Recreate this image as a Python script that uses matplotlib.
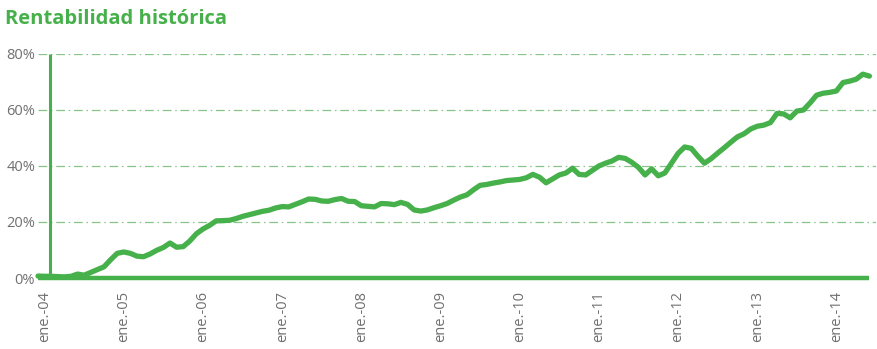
import matplotlib
matplotlib.use("Agg")
import matplotlib.pyplot as plt
import numpy as np

# Monthly cumulative return (%), dic.-03 .. jun.-14
returns = [
    0.7, 0.6, 0.6, 0.5, 0.4, 0.6, 1.4, 1.0, 2.0, 3.0, 4.0, 6.5,
    8.8, 9.3, 8.8, 7.8, 7.6, 8.6, 9.9, 10.9, 12.5, 11.0, 11.2, 13.2,
    15.8, 17.5, 18.8, 20.4, 20.5, 20.6, 21.2, 22.0, 22.6, 23.2, 23.8, 24.2,
    25.0, 25.5, 25.4, 26.3, 27.2, 28.2, 28.1, 27.5, 27.4, 28.0, 28.4, 27.4,
    27.3, 25.8, 25.6, 25.4, 26.6, 26.5, 26.2, 27.0, 26.3, 24.3, 23.9, 24.3,
    25.1, 25.8, 26.6, 27.8, 28.9, 29.7, 31.5, 33.1, 33.4, 33.9, 34.3, 34.8,
    35.0, 35.2, 35.8, 37.0, 36.0, 34.0, 35.4, 36.8, 37.5, 39.2, 37.0, 36.8,
    38.4, 40.0, 41.0, 41.8, 43.1, 42.7, 41.3, 39.5, 36.8, 39.0, 36.5, 37.5,
    41.0, 44.5, 46.8, 46.3, 43.5, 41.0, 42.6, 44.6, 46.5, 48.5, 50.4, 51.5,
    53.2, 54.2, 54.6, 55.5, 58.8, 58.6, 57.2, 59.6, 60.0, 62.5, 65.3, 66.0,
    66.3, 66.8, 69.8, 70.3, 71.0, 72.8, 72.1,
]
tick_labels = ["ene.-04", "ene.-05", "ene.-06", "ene.-07", "ene.-08", "ene.-09",
               "ene.-10", "ene.-11", "ene.-12", "ene.-13", "ene.-14"]
y_ticks = [0, 20, 40, 60, 80]
title = "Rentabilidad histórica"

GREEN = "#46b04b"
GRID = "#86c488"
GRAY = "#707070"

fig = plt.figure(figsize=(8.78, 3.49), dpi=100)
ax = fig.add_axes([38/878, 1-278/349, (876-38)/878, (278-54)/349])

x = np.arange(len(returns))
ax.set_xlim(0, 127)
ax.set_ylim(0, 80)

for yv in y_ticks[1:]:
    ax.axhline(yv, color=GRID, lw=0.9, ls=(0, (7, 3, 1.2, 3)), zorder=1)

ax.plot([x[0], x[-1]], [0, 0], color=GREEN, lw=3.2, solid_capstyle="butt", zorder=3, clip_on=False)
ax.plot([1.8, 1.8], [0, 80], color=GREEN, lw=2.2, solid_capstyle="butt", zorder=3, clip_on=False)
ax.plot(x, returns, color=GREEN, lw=3.8, solid_capstyle="round", solid_joinstyle="round", zorder=4, clip_on=False)

for s in ax.spines.values():
    s.set_visible(False)

ax.set_yticks(y_ticks)
ax.set_yticklabels([f"{v}%" for v in y_ticks])
ax.set_xticks([1 + 12*k for k in range(len(tick_labels))])
ax.set_xticklabels(tick_labels, rotation=90)
ax.tick_params(axis="y", length=0, pad=2, labelsize=10.5, labelcolor=GRAY)
ax.tick_params(axis="x", length=0, pad=9, labelsize=10.5, labelcolor=GRAY)
for lab in ax.get_xticklabels() + ax.get_yticklabels():
    lab.set_family(["Open Sans", "DejaVu Sans"])

fig.text(5/878, 1-19/349, title, color=GREEN, fontsize=14.5, fontweight="bold",
         family=["Open Sans", "DejaVu Sans"], va="center", ha="left")

fig.savefig("out.png", dpi=100)
